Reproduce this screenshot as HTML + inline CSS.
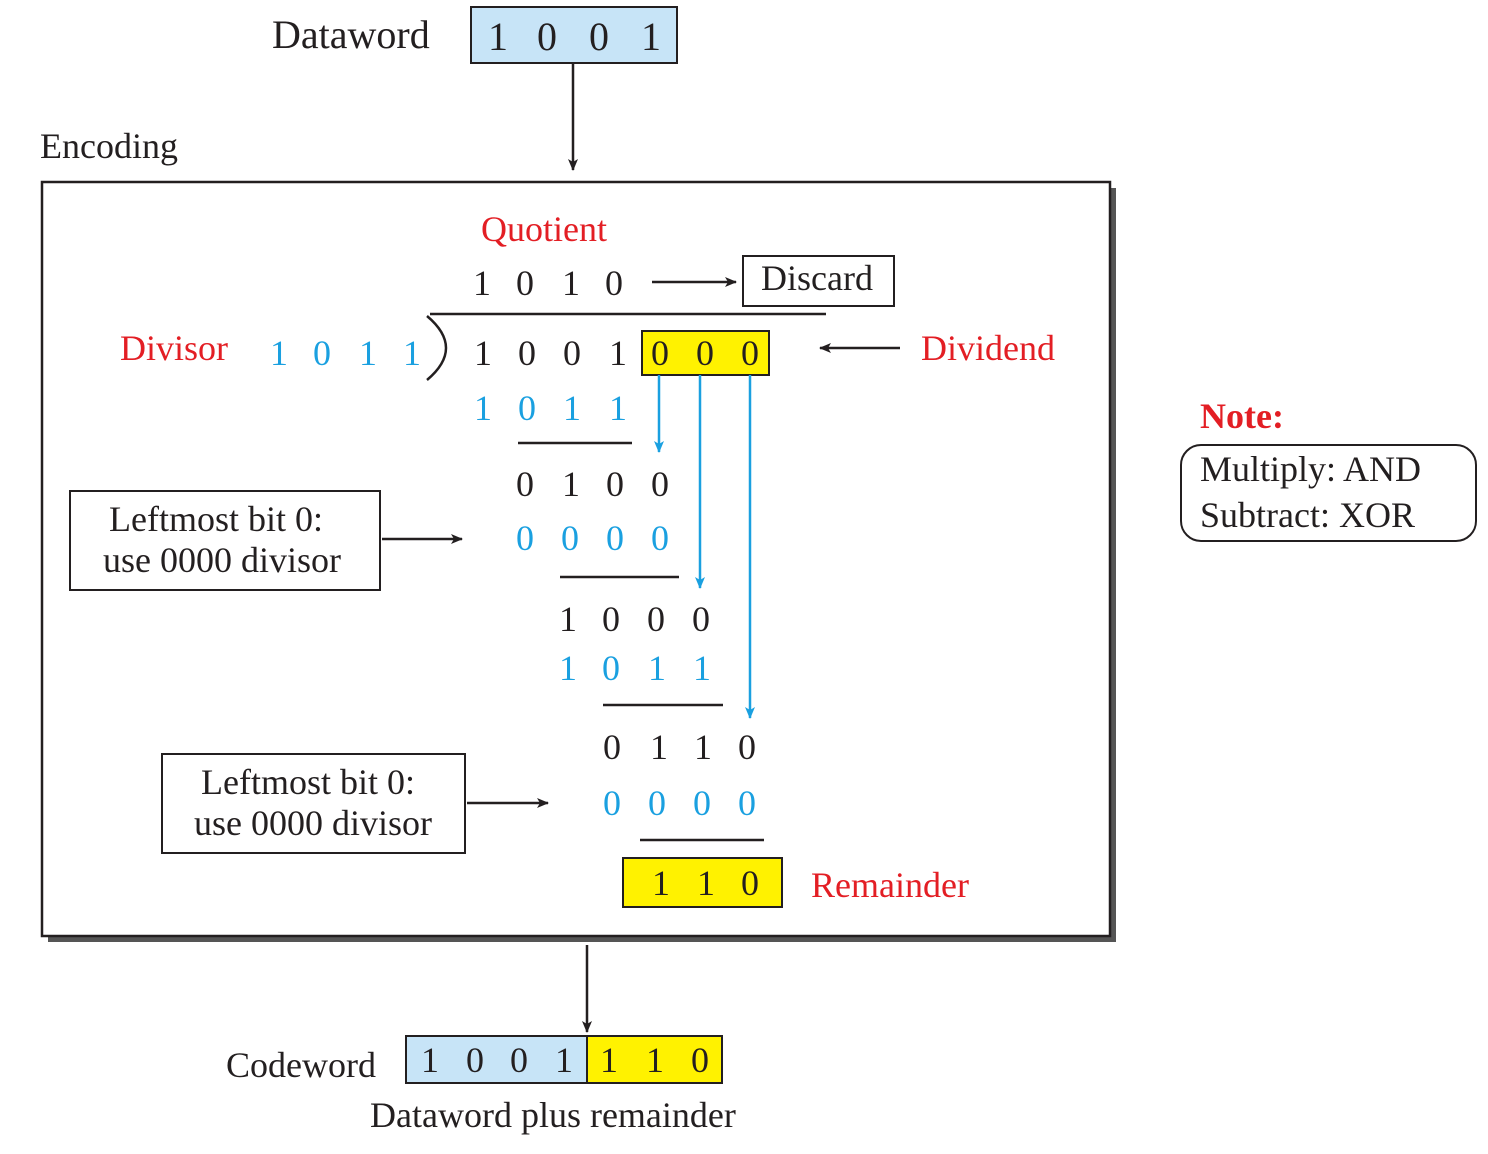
<!DOCTYPE html>
<html><head><meta charset="utf-8"><style>
html,body{margin:0;padding:0;background:#fff}
svg{display:block}
text{font-family:"Liberation Serif",serif;font-size:36px;fill:#231f20}
.r{fill:#e31e24}.b{fill:#1aa0e0}
</style></head><body>
<svg width="1488" height="1154" viewBox="0 0 1488 1154" xmlns="http://www.w3.org/2000/svg">
<defs>
<marker id="ak" markerWidth="12" markerHeight="10" refX="11" refY="5" orient="auto" markerUnits="userSpaceOnUse"><path d="M0,0 L12,5 L0,10 L3,5 z" fill="#231f20"/></marker>
<marker id="ab" markerWidth="12" markerHeight="10" refX="11" refY="5" orient="auto" markerUnits="userSpaceOnUse"><path d="M0,0 L12,5 L0,10 L3,5 z" fill="#1aa0e0"/></marker>
</defs>
<!-- top -->
<text x="272" y="48" font-size="40" style="font-size:40px">Dataword</text>
<rect x="471" y="7" width="206" height="56" fill="#c7e4f7" stroke="#231f20" stroke-width="2"/>
<text x="488" y="50" style="font-size:40px">1</text><text x="537" y="50" style="font-size:40px">0</text><text x="589" y="50" style="font-size:40px">0</text><text x="641" y="50" style="font-size:40px">1</text>
<line x1="573" y1="63" x2="573" y2="170" stroke="#231f20" stroke-width="2.5" marker-end="url(#ak)"/>
<text x="40" y="158">Encoding</text>
<!-- main box -->
<rect x="48" y="188" width="1068" height="754" fill="#555"/>
<rect x="42" y="182" width="1068" height="754" fill="#fff" stroke="#231f20" stroke-width="2.5"/>
<text x="481" y="241" class="r">Quotient</text>
<text x="473" y="295">1</text><text x="516" y="295">0</text><text x="562" y="295">1</text><text x="605" y="295">0</text>
<line x1="652" y1="282" x2="736" y2="282" stroke="#231f20" stroke-width="2.5" marker-end="url(#ak)"/>
<rect x="743" y="256" width="151" height="50" fill="#fff" stroke="#231f20" stroke-width="2"/>
<text x="761" y="290">Discard</text>
<line x1="430" y1="314" x2="826" y2="314" stroke="#231f20" stroke-width="2.5"/>
<path d="M427,316 Q465,348 427,380" fill="none" stroke="#231f20" stroke-width="2.5"/>
<text x="120" y="360" class="r">Divisor</text>
<text x="270" y="365" class="b">1</text><text x="313" y="365" class="b">0</text><text x="359" y="365" class="b">1</text><text x="403" y="365" class="b">1</text>
<text x="474" y="365">1</text><text x="518" y="365">0</text><text x="563" y="365">0</text><text x="609" y="365">1</text>
<rect x="642" y="331" width="127" height="44" fill="#fff200" stroke="#231f20" stroke-width="2"/>
<text x="651" y="365">0</text><text x="696" y="365">0</text><text x="741" y="365">0</text>
<line x1="900" y1="348" x2="820" y2="348" stroke="#231f20" stroke-width="2.5" marker-end="url(#ak)"/>
<text x="921" y="360" class="r">Dividend</text>
<text x="474" y="420" class="b">1</text><text x="518" y="420" class="b">0</text><text x="563" y="420" class="b">1</text><text x="609" y="420" class="b">1</text>
<line x1="518" y1="443" x2="632" y2="443" stroke="#231f20" stroke-width="2.5"/>
<text x="516" y="496">0</text><text x="562" y="496">1</text><text x="606" y="496">0</text><text x="651" y="496">0</text>
<text x="516" y="550" class="b">0</text><text x="561" y="550" class="b">0</text><text x="606" y="550" class="b">0</text><text x="651" y="550" class="b">0</text>
<line x1="560" y1="577" x2="679" y2="577" stroke="#231f20" stroke-width="2.5"/>
<text x="559" y="631">1</text><text x="602" y="631">0</text><text x="647" y="631">0</text><text x="692" y="631">0</text>
<text x="559" y="680" class="b">1</text><text x="602" y="680" class="b">0</text><text x="648" y="680" class="b">1</text><text x="693" y="680" class="b">1</text>
<line x1="603" y1="705" x2="723" y2="705" stroke="#231f20" stroke-width="2.5"/>
<text x="603" y="759">0</text><text x="650" y="759">1</text><text x="694" y="759">1</text><text x="738" y="759">0</text>
<text x="603" y="815" class="b">0</text><text x="648" y="815" class="b">0</text><text x="693" y="815" class="b">0</text><text x="738" y="815" class="b">0</text>
<line x1="640" y1="840" x2="764" y2="840" stroke="#231f20" stroke-width="2.5"/>
<rect x="623" y="858" width="159" height="49" fill="#fff200" stroke="#231f20" stroke-width="2"/>
<text x="652" y="895">1</text><text x="697" y="895">1</text><text x="741" y="895">0</text>
<text x="811" y="897" class="r">Remainder</text>
<line x1="659" y1="375" x2="659" y2="452" stroke="#1aa0e0" stroke-width="2.5" marker-end="url(#ab)"/>
<line x1="700" y1="375" x2="700" y2="588" stroke="#1aa0e0" stroke-width="2.5" marker-end="url(#ab)"/>
<line x1="750" y1="375" x2="750" y2="718" stroke="#1aa0e0" stroke-width="2.5" marker-end="url(#ab)"/>
<rect x="70" y="491" width="310" height="99" fill="#fff" stroke="#231f20" stroke-width="2"/>
<text x="216" y="531" text-anchor="middle">Leftmost bit 0:</text>
<text x="222" y="572" text-anchor="middle">use 0000 divisor</text>
<line x1="382" y1="539" x2="462" y2="539" stroke="#231f20" stroke-width="2.5" marker-end="url(#ak)"/>
<rect x="162" y="754" width="303" height="99" fill="#fff" stroke="#231f20" stroke-width="2"/>
<text x="308" y="794" text-anchor="middle">Leftmost bit 0:</text>
<text x="313" y="835" text-anchor="middle">use 0000 divisor</text>
<line x1="467" y1="803" x2="548" y2="803" stroke="#231f20" stroke-width="2.5" marker-end="url(#ak)"/>
<!-- note -->
<text x="1200" y="428" class="r" font-weight="bold">Note:</text>
<rect x="1181" y="445" width="295" height="96" rx="20" fill="#fff" stroke="#231f20" stroke-width="2"/>
<text x="1200" y="481">Multiply: AND</text>
<text x="1200" y="527">Subtract: XOR</text>
<!-- bottom -->
<line x1="587" y1="945" x2="587" y2="1032" stroke="#231f20" stroke-width="2.5" marker-end="url(#ak)"/>
<text x="226" y="1077">Codeword</text>
<rect x="406" y="1036" width="181" height="47" fill="#c7e4f7" stroke="#231f20" stroke-width="2"/>
<rect x="587" y="1036" width="135" height="47" fill="#fff200" stroke="#231f20" stroke-width="2"/>
<text x="421" y="1072">1</text><text x="466" y="1072">0</text><text x="510" y="1072">0</text><text x="555" y="1072">1</text>
<text x="600" y="1072">1</text><text x="646" y="1072">1</text><text x="691" y="1072">0</text>
<text x="370" y="1127">Dataword plus remainder</text>
</svg>
</body></html>
